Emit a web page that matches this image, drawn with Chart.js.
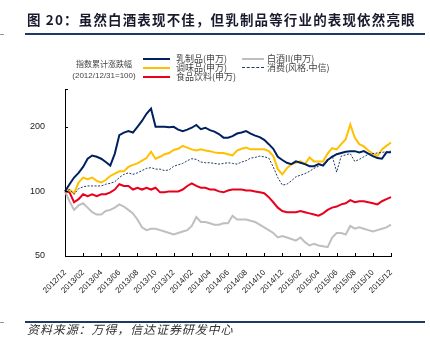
<!DOCTYPE html>
<html>
<head>
<meta charset="utf-8">
<script src="https://cdn.jsdelivr.net/npm/chart.js@4.4.1/dist/chart.umd.min.js"></script>
<style>
  body { margin: 0; width: 430px; height: 340px; background: #fff; position: relative; overflow: hidden; }
  #chart { position: absolute; left: 0; top: 0; }
  .txt { position: absolute; white-space: nowrap; font-family: "Noto Sans CJK SC", sans-serif; color: #222; }
  #title { left: 27px; top: 9px; font-size: 13.5px; font-weight: bold; letter-spacing: 1.15px; color: #1a1a2e; }
  .rule { position: absolute; left: 25px; width: 400px; height: 2px; background: #1F3864; }
  .stub { position: absolute; left: 0; width: 4px; height: 1px; background: #999; }
  #source { left: 27px; top: 320px; font-size: 12px; font-style: italic; letter-spacing: 0.9px; color: #333; }
  .note { font-size: 8px; color: #444; text-align: center; width: 80px; left: 64px; }
  .leg { font-size: 9px; line-height: 10px; color: #444; }
  .sw { position: absolute; height: 0; }
</style>
</head>
<body>
<canvas id="chart" width="430" height="340"></canvas>

<div class="txt" id="title">图 20：虽然白酒表现不佳，但乳制品等行业的表现依然亮眼</div>
<div class="rule" style="top:33px"></div>
<div class="stub" style="top:34px"></div>

<div class="txt note" style="top:58px">指数累计涨跌幅</div>
<div class="txt note" style="top:71px;font-family:'Liberation Sans',Arial,sans-serif">(2012/12/31=100)</div>

<div class="sw" style="left:143px;top:58px;width:27px;border-top:2px solid #002060"></div>
<div class="txt leg" style="left:176px;top:54px">乳制品(申万)</div>
<div class="sw" style="left:143px;top:67px;width:27px;border-top:2px solid #FFC000"></div>
<div class="txt leg" style="left:176px;top:63px">调味品(申万)</div>
<div class="sw" style="left:143px;top:76px;width:27px;border-top:2px solid #E8001C"></div>
<div class="txt leg" style="left:176px;top:72px">食品饮料(申万)</div>
<div class="sw" style="left:242px;top:58px;width:22px;border-top:2px solid #BFBFBF"></div>
<div class="txt leg" style="left:267px;top:54px">白酒II(申万)</div>
<div class="sw" style="left:242px;top:67px;width:22px;border-top:1px dashed #1F3864"></div>
<div class="txt leg" style="left:267px;top:63px">消费(风格.中信)</div>

<div class="rule" style="top:321px"></div>
<div class="stub" style="top:322px"></div>
<div class="txt" id="source">资料来源：万得，信达证券研发中心</div>

<script>
// tick labels every two months; data sampled twice a month
const xTickLabels = ['2012/12','2013/02','2013/04','2013/06','2013/08','2013/10','2013/12',
  '2014/02','2014/04','2014/06','2014/08','2014/10','2014/12',
  '2015/02','2015/04','2015/06','2015/08','2015/10','2015/12'];
const yTicks = [50, 100, 200];

const dairy = [100,108,116,122,130,142,147,145,142,137,132,150,183,188,191,188,200,213,230,243,
  200,200,200,199,200,194,191,194,198,204,195,198,193,190,185,178,178,181,186,188,
  191,186,182,179,174,166,158,145,140,136,134,138,136,134,131,131,134,132,140,145,
  149,151,153,154,154,152,154,150,146,143,142,152,152];
const seasoning = [100,102,98,110,116,114,116,112,110,113,118,121,124,124,130,133,135,139,143,153,
  142,145,149,151,156,158,163,160,157,155,157,155,154,152,151,151,149,147,155,158,
  160,157,157,157,157,154,146,127,120,128,134,136,138,134,144,138,138,138,150,159,
  157,166,175,205,178,166,162,155,150,146,157,163,169];
const consumer = [100,102,97,103,105,106,106,106,106,108,109,111,116,120,122,120,122,125,128,129,
  127,127,125,126,131,133,135,139,142,141,137,136,136,135,134,135,136,135,134,137,
  139,143,144,146,145,143,130,116,107,108,112,117,119,121,124,128,131,134,138,147,
  123,146,148,150,138,141,145,149,150,151,152,153,154];
const foodBev = [100,99,89,92,97,95,97,95,97,97,99,102,108,106,106,102,104,102,104,102,
  104,99,99,100,100,100,102,106,109,106,104,104,102,102,100,99,101,102,102,102,
  101,101,100,99,98,94,89,84,81,80,80,80,81,80,79,78,77,79,82,84,
  85,87,88,91,89,90,90,89,88,87,90,92,94];
const baijiu = [100,90,82,86,88,84,80,78,78,81,82,84,87,85,82,79,74,68,66,67,
  67,66,65,64,63,64,65,66,69,76,72,72,71,70,70,71,71,77,74,74,
  74,73,72,70,68,66,64,61,62,61,60,59,61,58,56,57,56,55.5,55,61,
  64,64,63,69,67,68,67,66,65,66,67,68,70];

const labels = dairy.map((v, i) => i % 4 === 0 ? xTickLabels[i / 4] : '');

const innerTicks = {
  id: 'innerTicks',
  afterDraw(chart) {
    const c = chart.ctx, a = chart.chartArea;
    const x = chart.scales.x, y = chart.scales.y;
    c.save();
    c.strokeStyle = '#000';
    c.lineWidth = 1;
    c.beginPath();
    yTicks.concat([y.max]).forEach(v => {
      const py = Math.round(y.getPixelForValue(v)) + 0.5;
      c.moveTo(a.left, py); c.lineTo(a.left + 3, py);
    });
    labels.forEach((l, i) => {
      if (!l) return;
      const px = Math.round(x.getPixelForValue(i)) + 0.5;
      c.moveTo(px, a.bottom); c.lineTo(px, a.bottom - 3);
    });
    c.stroke();
    c.restore();
  }
};

new Chart(document.getElementById('chart'), {
  type: 'line',
  data: {
    labels: labels,
    datasets: [
      { label: '乳制品(申万)', data: dairy, borderColor: '#002060', borderWidth: 2, order: 1 },
      { label: '调味品(申万)', data: seasoning, borderColor: '#FFC000', borderWidth: 2, order: 2 },
      { label: '消费(风格.中信)', data: consumer, borderColor: '#1F3864', borderWidth: 1, borderDash: [2, 1.5], order: 0 },
      { label: '食品饮料(申万)', data: foodBev, borderColor: '#E8001C', borderWidth: 2, order: 3 },
      { label: '白酒II(申万)', data: baijiu, borderColor: '#BFBFBF', borderWidth: 2, order: 4 }
    ]
  },
  options: {
    responsive: false,
    animation: false,
    elements: { point: { radius: 0 }, line: { tension: 0 } },
    layout: { padding: { left: 0, top: 89, right: 39, bottom: 44 } },
    scales: {
      x: {
        grid: { display: false },
        border: { display: true, color: '#000', width: 1 },
        afterFit: function(scale) { scale.height = 40 },
        ticks: {
          autoSkip: false,
          minRotation: 45,
          maxRotation: 45,
          padding: 4,
          color: '#222',
          font: { family: 'Liberation Sans', size: 8 },
          callback: function(value, index) {
            return labels[index] ? labels[index] : null
          }
        }
      },
      y: {
        type: 'logarithmic',
        min: 50,
        max: 300,
        grid: { display: false },
        border: { display: true, color: '#000', width: 1 },
        afterFit: function(scale) { scale.width = 65 },
        afterBuildTicks: function(scale) {
          scale.ticks = yTicks.map(v => ({ value: v }))
        },
        ticks: {
          padding: 12,
          color: '#222',
          font: { family: 'Liberation Sans', size: 9 },
          callback: function(value) { return value }
        }
      }
    },
    plugins: {
      legend: { display: false },
      tooltip: { enabled: false }
    }
  },
  plugins: [innerTicks]
});
</script>
</body>
</html>
